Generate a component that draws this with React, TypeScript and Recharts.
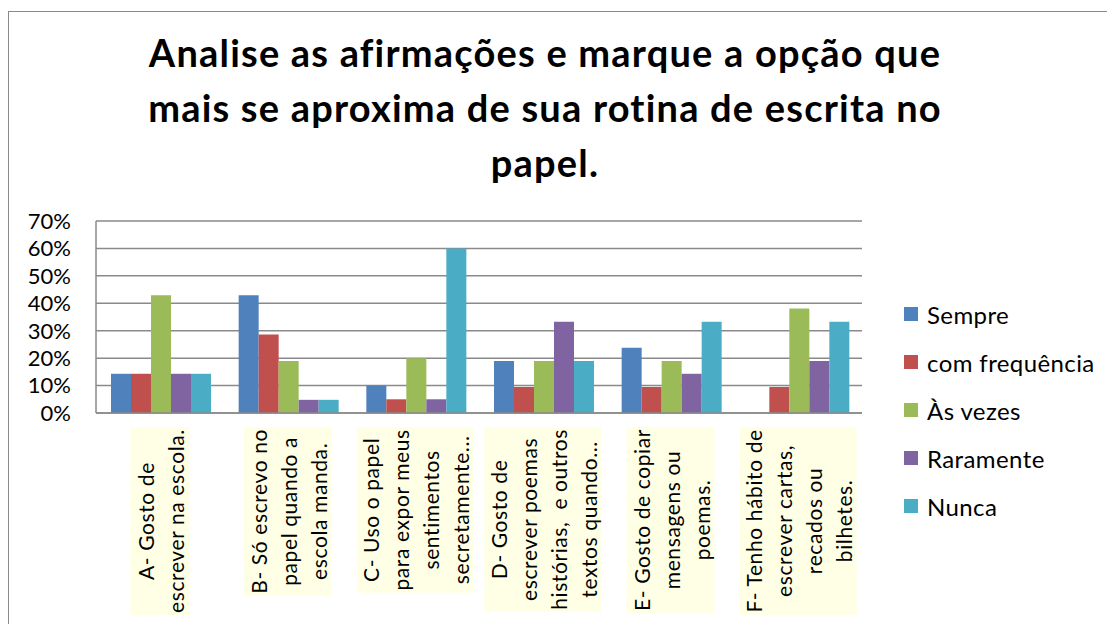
import React from 'react';
import { BarChart, Bar, XAxis, YAxis, CartesianGrid } from 'recharts';

const categories = [
  'A- Gosto de\nescrever na escola.',
  'B- Só escrevo no\npapel quando a\nescola manda.',
  'C- Uso o papel\npara expor meus\nsentimentos\nsecretamente...',
  'D- Gosto de\nescrever poemas\nhistórias,  e outros\ntextos quando...',
  'E- Gosto de copiar\nmensagens ou\npoemas.',
  'F- Tenho hábito de\nescrever cartas,\nrecados ou\nbilhetes.',
];
const sempre = [0.143, 0.429, 0.10, 0.19, 0.238, 0];
const comFrequencia = [0.143, 0.286, 0.05, 0.095, 0.095, 0.095];
const asVezes = [0.429, 0.19, 0.20, 0.19, 0.19, 0.381];
const raramente = [0.143, 0.048, 0.05, 0.333, 0.143, 0.19];
const nunca = [0.143, 0.048, 0.60, 0.19, 0.333, 0.333];
const yTicks = [0, 0.1, 0.2, 0.3, 0.4, 0.5, 0.6, 0.7];
const titleLines = ['Analise as afirmações e marque a opção que', 'mais se aproxima de sua rotina de escrita no', 'papel.'];

const series = [
  { key: 'Sempre', values: sempre, color: '#4F81BD' },
  { key: 'com frequência', values: comFrequencia, color: '#C0504D' },
  { key: 'Às vezes', values: asVezes, color: '#9BBB59' },
  { key: 'Raramente', values: raramente, color: '#8064A2' },
  { key: 'Nunca', values: nunca, color: '#4BACC6' },
];

const data = categories.map((c, i) => {
  const row: any = { name: c };
  series.forEach((s) => (row[s.key] = s.values[i]));
  return row;
});

const FONT = 'Lato, "Open Sans", sans-serif';
const LABEL_SIZE = 21;
const LABEL_LS = 0.6;
const LINE_H = 30;

let ctx: CanvasRenderingContext2D | null = null;
function measure(t: string) {
  const fallback = t.length * LABEL_SIZE * 0.45;
  if (typeof document === 'undefined') return fallback;
  if (!ctx) ctx = document.createElement('canvas').getContext('2d');
  if (!ctx) return fallback;
  ctx.font = `${LABEL_SIZE}px Lato`;
  return ctx.measureText(t).width + t.length * LABEL_LS;
}

const CatTick = (props: any) => {
  const { x, y, payload } = props;
  const lines: string[] = String(payload.value).split('\n');
  const maxLen = Math.max(...lines.map(measure));
  const boxH = maxLen + 4;
  const boxW = lines.length * 29 + 1;
  const cy = y + boxH / 2;
  return (
    <g>
      <rect x={x - boxW / 2} y={y} width={boxW} height={boxH} fill="#FFFFE6" />
      <g transform={`translate(${x},${cy}) rotate(-90)`}>
        {lines.map((l, i) => (
          <text
            key={i}
            x={0}
            y={(i - (lines.length - 1) / 2) * LINE_H + 9}
            textAnchor="middle"
            fontSize={LABEL_SIZE}
            fontFamily={FONT}
            letterSpacing={LABEL_LS}
            fill="#000"
            style={{ whiteSpace: 'pre' }}
          >
            {l}
          </text>
        ))}
      </g>
    </g>
  );
};

export default function App() {
  return (
    <div style={{ position: 'absolute', left: 0, top: 0, width: 1107, height: 624, overflow: 'hidden', background: '#fff' }}>
      <div style={{ position: 'absolute', left: 8, top: 11, width: 1200, height: 700, border: '1.5px solid #8a8a8a', boxSizing: 'border-box' }} />
      <div
        style={{
          position: 'absolute',
          left: 45,
          width: 1000,
          top: 25,
          textAlign: 'center',
          fontFamily: FONT,
          fontWeight: 700,
          fontSize: 38,
          letterSpacing: 1.2,
          lineHeight: '55px',
          color: '#000',
        }}
      >
        {titleLines.map((l, i) => (
          <div key={i}>{l}</div>
        ))}
      </div>
      <div style={{ position: 'absolute', left: 0, top: 0 }}>
        <BarChart
          width={1107}
          height={624}
          data={data}
          margin={{ top: 221, right: 245, bottom: 11, left: 0 }}
          barGap={0}
          barCategoryGap={15}
        >
          <CartesianGrid vertical={false} stroke="#8a8a8a" strokeWidth={1.5} />
          <XAxis
            dataKey="name"
            interval={0}
            height={200}
            tick={<CatTick />}
            tickLine={false}
            tickSize={0}
            tickMargin={14}
            axisLine={{ stroke: '#8a8a8a', strokeWidth: 1.5 }}
          />
          <YAxis
            width={96}
            domain={[0, 0.7]}
            ticks={yTicks}
            interval={0}
            tickFormatter={(v: number) => `${Math.round(v * 100)}%`}
            tickLine={false}
            tickSize={0}
            tickMargin={25}
            axisLine={{ stroke: '#8a8a8a', strokeWidth: 1.5 }}
            tick={{ fill: '#000', fontSize: 22, fontFamily: FONT }}
          />
          {series.map((s) => (
            <Bar key={s.key} dataKey={s.key} fill={s.color} isAnimationActive={false} />
          ))}
        </BarChart>
      </div>
      <div style={{ position: 'absolute', left: 904, top: 290, fontFamily: FONT, fontSize: 24, letterSpacing: 0.4, color: '#000' }}>
        {series.map((s) => (
          <div key={s.key} style={{ display: 'flex', alignItems: 'center', height: 48 }}>
            <div style={{ width: 14, height: 14, background: s.color, marginRight: 9 }} />
            <span>{s.key}</span>
          </div>
        ))}
      </div>
    </div>
  );
}
